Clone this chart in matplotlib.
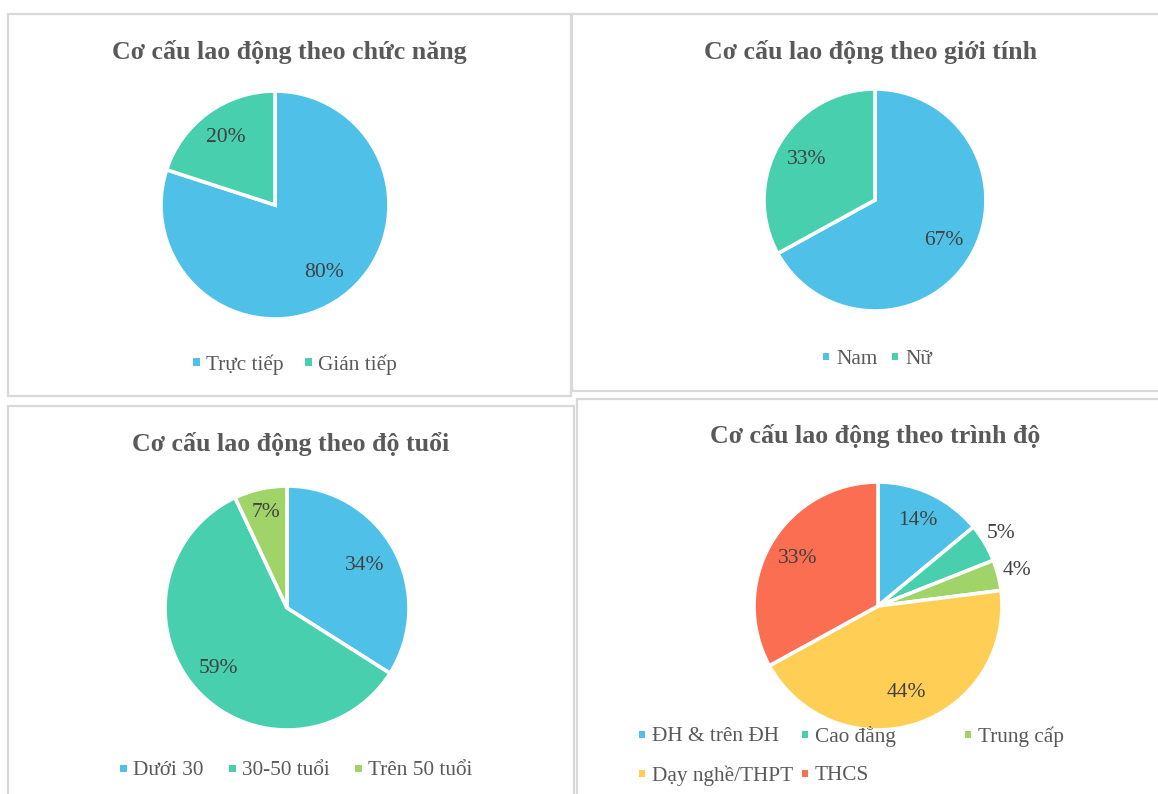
import numpy as np
import matplotlib
matplotlib.use('Agg')
import matplotlib.pyplot as plt
from matplotlib.patches import Rectangle

# Data
func_labels = ['Trực tiếp', 'Gián tiếp']
func_values = [80, 20]
sex_labels = ['Nam', 'Nữ']
sex_values = [67, 33]
age_labels = ['Dưới 30', '30-50 tuổi', 'Trên 50 tuổi']
age_values = [34, 59, 7]
edu_labels = ['ĐH & trên ĐH', 'Cao đẳng', 'Trung cấp', 'Dạy nghề/THPT', 'THCS']
edu_values = [14, 5, 4, 44, 33]

titles = ['Cơ cấu lao động theo chức năng', 'Cơ cấu lao động theo giới tính',
          'Cơ cấu lao động theo độ tuổi', 'Cơ cấu lao động theo trình độ']

colors = ['#4FC1E9', '#48CFAD', '#A0D468', '#FFCE54', '#FC6E51']

plt.rcParams['font.family'] = ['Liberation Serif', 'DejaVu Serif']

W, H = 1158, 794
fig = plt.figure(figsize=(W / 100, H / 100), dpi=100)


def fx(x):
    return x / W


def fy(y):
    return 1 - y / H


def panel(x0, y0, x1, y1):
    fig.add_artist(Rectangle((fx(x0), fy(y1)), fx(x1 - x0), (y1 - y0) / H,
                             transform=fig.transFigure, fill=False,
                             edgecolor='#D9D9D9', lw=1.6))


def pie(cx, cy, r, values, dists):
    ax = fig.add_axes([fx(cx - r), fy(cy + r), 2 * r / W, 2 * r / H])
    wedges, _ = ax.pie(values, colors=colors[:len(values)], startangle=90,
                       counterclock=False, radius=1,
                       wedgeprops=dict(edgecolor='white', linewidth=2.6))
    ax.set_xlim(-1, 1)
    ax.set_ylim(-1, 1)
    ax.axis('off')
    for w, v, d in zip(wedges, values, dists):
        ang = np.deg2rad((w.theta1 + w.theta2) / 2)
        ax.text(d * np.cos(ang), d * np.sin(ang), f'{v}%', ha='center',
                va='center', fontsize=15.5, color='#404040', clip_on=False)


def legend_row(y, xs, labels, cols):
    for x, lab, c in zip(xs, labels, cols):
        fig.add_artist(Rectangle((fx(x - 3.5), fy(y + 3.5)), 7 / W, 7 / H,
                                 transform=fig.transFigure, color=c, lw=0))
        fig.text(fx(x + 10), fy(y), lab, ha='left', va='center_baseline',
                 fontsize=15.3, color='#595959')


def title(x, y, s):
    fig.text(fx(x), fy(y), s, ha='center', va='center_baseline', fontsize=18.6,
             fontweight='bold', color='#595959')


# Panel frames
panel(8, 14, 571, 396)
panel(572, 14, 1175, 391)
panel(8, 406, 574, 815)
panel(577, 399, 1175, 815)

# Chức năng
title(289, 50, titles[0])
pie(275, 205, 114, func_values, [0.73, 0.73])
legend_row(362, [196, 308], func_labels, colors[:2])

# Giới tính
title(871, 50, titles[1])
pie(875, 200, 111, sex_values, [0.72, 0.72])
legend_row(357, [826, 895], sex_labels, colors[:2])

# Độ tuổi
title(291, 441, titles[2])
pie(287, 608, 122, age_values, [0.73, 0.75, 0.80])
legend_row(768, [123, 232, 358], age_labels, colors[:3])

# Trình độ
title(875, 434, titles[3])
pie(878, 606, 124, edu_values, [0.76, 1.15, 1.16, 0.73, 0.75])
legend_row(734, [642, 805, 968], edu_labels[:3], colors[:3])
legend_row(773, [642, 805], edu_labels[3:], colors[3:5])

fig.savefig('out.png', dpi=100)
